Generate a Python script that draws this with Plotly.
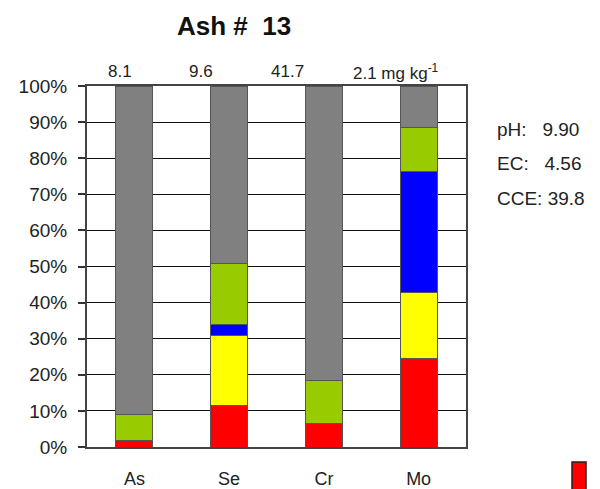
import plotly.graph_objects as go

elements = ["As", "Se", "Cr", "Mo"]
series_names = ["s1", "s2", "s3", "s4", "s5"]
series_colors = ["#FF0000", "#FFFF00", "#0000FF", "#99CC00", "#808080"]
red = [1.8, 11.6, 6.6, 24.6]
yellow = [0.0, 19.4, 0.0, 18.3]
blue = [0.0, 3.0, 0.0, 33.3]
green = [7.1, 16.7, 11.7, 12.4]
gray = [91.1, 49.3, 81.7, 11.4]
series_values = [red, yellow, blue, green, gray]
totals_labels = ["8.1", "9.6", "41.7", "2.1 mg kg<sup>-1</sup>"]
side_text = ["pH:   9.90", "EC:   4.56", "CCE: 39.8"]
y_ticks = [0, 10, 20, 30, 40, 50, 60, 70, 80, 90, 100]

FONT = "Arial, Liberation Sans, sans-serif"
TXT = "#222222"

fig = go.Figure()
for name, color, vals in zip(series_names, series_colors, series_values):
    fig.add_trace(go.Bar(
        x=elements, y=vals, name=name,
        marker=dict(color=color, line=dict(color="#555555", width=1)),
        width=0.39, showlegend=False,
    ))

fig.update_layout(
    barmode="stack",
    width=600, height=489,
    margin=dict(l=87, r=134, t=86, b=42),
    paper_bgcolor="white", plot_bgcolor="white",
    font=dict(family=FONT, size=18, color=TXT),
    xaxis=dict(
        showline=True, linecolor="#444444", linewidth=2, mirror=True,
        ticks="", showgrid=False, ticklabelstandoff=14, automargin=False,
        tickfont=dict(size=18, color=TXT),
    ),
    yaxis=dict(
        range=[0, 100], tickvals=y_ticks,
        ticktext=[f"{v}%" for v in y_ticks],
        showline=True, linecolor="#444444", linewidth=2, mirror=True,
        ticks="outside", ticklen=7, tickcolor="#333333", tickwidth=1.5,
        showgrid=True, gridcolor="#111111", gridwidth=1.2,
        tickfont=dict(size=19, color=TXT), automargin=False,
        ticklabelstandoff=7,
    ),
)

# Title
fig.add_annotation(text="<b>Ash #  13</b>", xref="paper", yref="paper",
                   x=(234 - 87) / 379, y=(447 - 26) / 361, showarrow=False,
                   font=dict(size=26, color="#111111", family=FONT),
                   xanchor="center", yanchor="middle")

# Totals above bars (left-aligned text boxes)
label_left_px = [106, 187, 269, 351]
for px, lab in zip(label_left_px, totals_labels):
    fig.add_annotation(text=lab, xref="paper", yref="paper",
                       x=(px - 87) / 379, y=(447 - 72) / 361, showarrow=False,
                       xanchor="left", yanchor="middle",
                       font=dict(size=17, color=TXT, family=FONT))

# Side text
for i, t in enumerate(side_text):
    fig.add_annotation(text=t, xref="paper", yref="paper",
                       x=(495 - 87) / 379, y=(447 - (129 + 34.5 * i)) / 361,
                       showarrow=False, xanchor="left", yanchor="middle",
                       font=dict(size=19, color=TXT, family=FONT))

# Partial legend swatch (cut off at bottom right)
fig.add_shape(type="rect", xref="paper", yref="paper",
              x0=(572 - 87) / 379, x1=(586 - 87) / 379,
              y0=(447 - 495) / 361, y1=(447 - 462) / 361,
              fillcolor="#FF0000", line=dict(color="#222222", width=1.5))

fig.write_html("out.html", config={"displayModeBar": False},
               post_script="document.body.style.margin='0px';")
